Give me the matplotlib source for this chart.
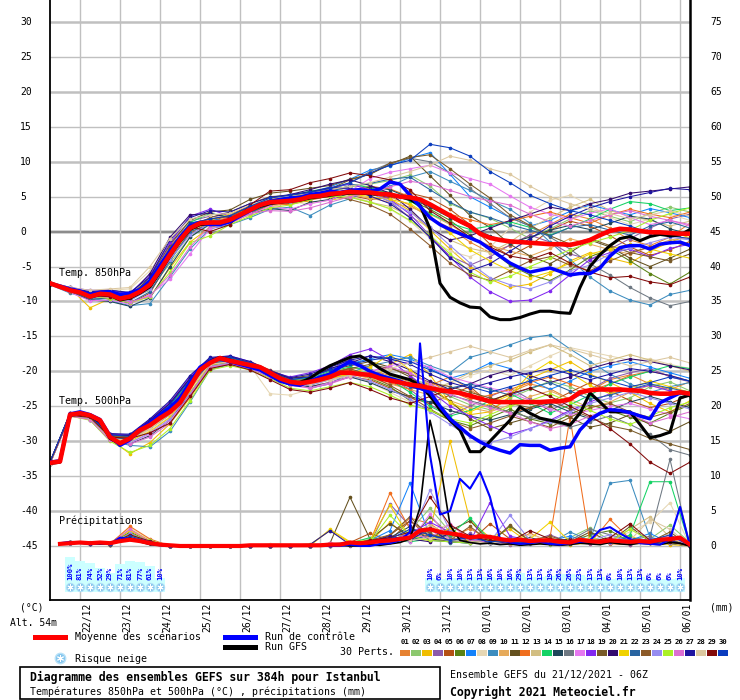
import matplotlib.pyplot as plt
import numpy as np
from matplotlib.lines import Line2D
from matplotlib.patches import Rectangle
from matplotlib.transforms import blended_transform_factory

plt.rcParams['font.family'] = 'DejaVu Sans Mono'

nan = np.nan

# forecast hours (run 21/12 06Z), 6-hourly for mean/control/GFS, 12-hourly for members
HOURS = np.arange(0, 385, 6)
PERT_HOURS = np.arange(0, 385, 12)
PRECIP_PERT_HOURS = np.arange(12, 385, 12)

DATE_LABELS = ['22/12', '23/12', '24/12', '25/12', '26/12', '27/12', '28/12', '29/12',
               '30/12', '31/12', '01/01', '02/01', '03/01', '04/01', '05/01', '06/01']
DATE_HOURS = [18, 42, 66, 90, 114, 138, 162, 186, 210, 234, 258, 282, 306, 330, 354, 378]

MEAN_850 = [-7.4, -7.9, -8.4, -8.7, -9.3, -8.9, -9.0, -9.6, -9.3, -8.6, -7.6, -5.5, -3.3, -1.2, 0.5, 1.2,
            1.3, 1.3, 1.7, 2.4, 3.1, 3.8, 4.2, 4.3, 4.4, 4.6, 5.0, 5.1, 5.4, 5.5, 5.7, 5.6, 5.6, 5.4,
            5.3, 5.0, 4.9, 4.6, 3.9, 3.1, 2.3, 1.5, 0.8, -0.3, -0.9, -1.2, -1.4, -1.5, -1.6, -1.7,
            -1.8, -1.8, -1.9, -1.6, -1.2, -0.5, 0.1, 0.4, 0.3, 0.1, -0.1, -0.1, -0.2, -0.3, -0.3]
CTRL_850 = [-7.4, -7.8, -8.2, -8.5, -9.0, -8.7, -8.6, -9.0, -8.8, -8.3, -7.0, -4.8, -2.8, -0.8, 0.8, 1.3,
            1.0, 1.0, 1.4, 2.2, 3.0, 3.8, 4.3, 4.6, 4.8, 4.9, 5.3, 5.5, 5.8, 5.6, 5.9, 6.0, 5.8, 6.1,
            7.1, 6.8, 5.2, 3.6, 2.0, 1.0, 0.3, -0.3, -0.9, -1.5, -2.5, -3.5, -4.5, -5.2, -5.8, -5.5,
            -5.2, -5.7, -6.2, -6.0, -6.0, -5.2, -3.5, -2.3, -2.0, -2.0, -2.5, -1.8, -1.6, -1.5, -2.0]
GFS_850 = [-7.4, -7.9, -8.3, -8.8, -9.4, -9.0, -9.1, -9.8, -9.5, -8.8, -7.9, -5.8, -3.5, -1.4, 0.3, 1.0,
           1.1, 1.2, 1.6, 2.3, 3.0, 3.6, 4.0, 4.2, 4.3, 4.5, 4.8, 5.0, 5.2, 5.4, 5.5, 5.5, 5.4, 5.3,
           5.2, 5.0, 4.6, 3.8, 0.4, -7.4, -9.4, -10.2, -10.8, -10.9, -12.2, -12.6, -12.6, -12.3,
           -11.8, -11.4, -11.4, -11.6, -11.7, -8.0, -5.0, -3.3, -2.0, -1.0, -0.7, -1.3, -0.7, -0.4,
           -0.6, -0.5, 0.3]

MEAN_500 = [-33.1, -32.9, -26.2, -26.0, -26.3, -27.0, -29.4, -30.3, -29.6, -28.4, -27.7, -26.7, -25.8,
            -24.5, -22.2, -19.8, -18.8, -18.1, -18.5, -18.8, -19.1, -19.4, -20.2, -21.0, -21.5, -21.7,
            -21.5, -21.2, -20.8, -20.2, -20.2, -20.4, -20.5, -21.0, -21.3, -21.6, -21.9, -22.1, -22.4,
            -22.7, -22.9, -23.1, -23.5, -23.9, -24.3, -24.4, -24.4, -24.4, -24.4, -24.4, -24.3, -24.3,
            -24.0, -23.0, -22.7, -22.6, -22.6, -22.6, -22.7, -22.8, -23.1, -23.2, -23.2, -23.0, -23.2]
CTRL_500 = [-33.0, -32.8, -26.1, -25.8, -26.2, -26.9, -29.2, -30.6, -29.8, -28.2, -27.4, -26.2, -25.2,
            -23.8, -21.6, -19.4, -18.6, -18.2, -18.6, -19.0, -19.4, -19.8, -20.6, -21.4, -21.8, -22.0,
            -21.4, -20.8, -20.4, -19.4, -18.6, -19.2, -20.0, -20.6, -21.0, -21.4, -22.0, -22.4, -23.0,
            -25.0, -26.8, -28.0, -29.2, -30.1, -30.8, -31.3, -31.7, -30.5, -30.6, -30.6, -31.3, -31.0,
            -30.8, -28.4, -26.9, -26.0, -25.5, -25.6, -25.9, -26.4, -26.8, -24.5, -23.8, -23.1, -23.2]
GFS_500 = [-33.2, -33.0, -26.3, -26.1, -26.4, -27.2, -29.6, -30.4, -29.5, -28.4, -27.6, -26.5, -25.5,
           -24.2, -21.9, -19.6, -18.6, -18.0, -18.4, -18.8, -19.2, -19.6, -20.4, -21.2, -21.6, -21.6,
           -21.0, -20.0, -19.2, -18.6, -18.0, -17.8, -18.6, -19.6, -20.4, -20.8, -21.2, -22.0, -23.5,
           -25.5, -27.0, -28.4, -31.5, -31.5, -30.0, -28.5, -27.0, -25.1, -26.0, -26.7, -27.0, -27.3,
           -27.7, -26.0, -23.1, -24.4, -25.8, -25.8, -25.8, -27.6, -29.5, -29.2, -28.7, -23.8, -23.4]

MEAN_PRECIP = [nan, 0.3, 0.4, 0.5, 0.4, 0.5, 0.4, 0.7, 0.9, 0.7, 0.4, 0.2, 0.1, 0, 0, 0, 0, 0, 0, 0,
               0.1, 0.1, 0.1, 0.1, 0.1, 0.1, 0.1, 0.1, 0.2, 0.2, 0.5, 0.4, 0.5, 0.7, 0.8, 1.0, 1.2, 2.2,
               2.4, 2.0, 1.8, 1.6, 1.2, 1.4, 1.3, 1.0, 0.8, 0.9, 0.7, 0.8, 0.8, 0.6, 0.5, 0.9, 0.7, 0.6,
               0.8, 0.7, 0.6, 0.7, 0.6, 0.9, 1.0, 1.2, 0.2]
CTRL_PRECIP = [nan, 0.4, 0.6, 0.5, 0.3, 0.4, 0.3, 1.2, 1.0, 0.8, 0.3, 0.1, 0, 0, 0, 0, 0, 0, 0, 0, 0,
               0.1, 0, 0, 0, 0, 0.1, 0, 0, 0, 0.2, 0, 0, 0.3, 0.4, 0.8, 2.0, 29.0, 13.0, 4.5, 5.0, 9.6,
               8.2, 10.6, 7.0, 1.0, 0.5, 0.3, 0.4, 0.6, 0.3, 0.2, 0.4, 0.6, 0.8, 2.3, 2.7, 1.8, 1.0, 0.4,
               0.3, 0.2, 1.0, 5.6, 0]
GFS_PRECIP = [nan, 0.3, 0.5, 0.4, 0.4, 0.3, 0.4, 0.9, 1.1, 0.6, 0.2, 0.1, 0, 0, 0, 0, 0, 0, 0, 0, 0,
              0, 0, 0, 0.1, 0, 0, 0, 0, 0.1, 0, 0, 0.2, 0.1, 0.3, 0.5, 1.0, 5.5, 18.0, 12.0, 3.0, 0.8,
              0.5, 0.3, 0.4, 0.2, 0.3, 0.1, 0.2, 0.3, 0.2, 0.1, 0.2, 0.4, 0.3, 0.2, 0.5, 0.3, 0.2, 0.4,
              0.3, 0.2, 0.5, 0.4, 0]

PERT_COLORS = ['#e68232', '#8cc86e', '#f0be00', '#8c5aaa', '#b45014', '#5a8214', '#1482fa', '#e6d7b4',
               '#3c8cbe', '#e6aa5a', '#64501e', '#f06e1e', '#d2be82', '#14d264', '#1e465a', '#6e7882',
               '#e678f0', '#8228f0', '#785a28', '#320a6e', '#f0d200', '#2864a0', '#8c5a28', '#968cf0',
               '#aaf028', '#dc6ed2', '#1e14a0', '#dcc8a0', '#820a0a', '#0a3cbe']

PERTS_850 = [
    [-7.3, -8.3, -9.1, -9.2, -9.8, -8.0, -3.6, 0.2, 1.5, 2.0, 3.4, 4.8, 4.6, 5.2, 4.8, 5.5, 6.2, 5.0, 3.8, 2.0, 0.5, -1.5, -3.0, -2.0, -0.5, 1.0, 2.5, 1.8, 0.5, -1.2, -2.0, -0.8, 1.2],
    [-7.4, -8.6, -9.5, -9.0, -9.6, -8.4, -4.5, -0.8, 1.0, 1.5, 2.8, 4.0, 4.3, 4.9, 5.6, 6.4, 6.8, 7.3, 8.1, 6.5, 4.0, 2.8, 1.9, 0.5, -1.0, 0.4, 1.8, 3.0, 2.2, 1.4, 2.6, 3.5, 2.8],
    [-7.2, -8.1, -10.9, -9.6, -10.0, -9.4, -5.2, -1.5, 0.6, 1.3, 2.5, 3.9, 4.8, 4.2, 4.5, 5.0, 5.4, 4.7, 3.0, 0.2, -2.5, -5.0, -6.8, -8.0, -7.5, -6.0, -4.2, -3.0, -3.8, -4.5, -2.8, -1.5, -0.5],
    [-7.5, -8.0, -8.6, -8.3, -9.0, -6.8, -2.0, 1.5, 2.2, 1.9, 3.5, 4.5, 5.0, 5.4, 5.9, 6.3, 5.5, 4.3, 2.0, -0.8, -3.5, -4.8, -3.6, -1.9, -0.5, -1.5, -3.2, -4.0, -2.5, -1.0, 0.5, 1.8, 2.5],
    [-7.4, -8.5, -9.8, -9.4, -10.3, -8.8, -4.0, -0.2, 1.4, 2.4, 3.7, 4.6, 5.2, 5.5, 6.0, 5.2, 4.6, 4.9, 5.5, 4.8, 3.2, 1.0, -1.8, -3.5, -2.0, 0.2, 1.5, 0.8, -0.6, -2.2, -3.4, -2.6, -1.4],
    [-7.3, -8.2, -9.0, -9.1, -9.5, -7.5, -3.0, 0.9, 1.1, 1.6, 2.9, 4.1, 4.0, 4.6, 5.3, 5.8, 6.0, 5.6, 4.5, 3.2, 1.6, -0.5, -2.6, -4.8, -6.2, -7.0, -5.5, -3.6, -2.5, -4.2, -6.0, -7.5, -5.8],
    [-7.4, -8.4, -9.3, -8.7, -9.1, -7.0, -2.6, 1.2, 1.8, 1.5, 3.0, 4.3, 4.7, 5.6, 6.4, 7.5, 8.8, 9.4, 10.5, 11.3, 8.2, 5.0, 3.5, 2.0, 0.8, 1.6, 2.9, 3.8, 3.1, 2.4, 3.3, 2.7, 2.0],
    [-7.2, -8.0, -8.5, -8.4, -8.2, -5.6, -1.5, 1.5, 2.5, 2.3, 2.2, 3.5, 4.2, 4.0, 4.6, 5.1, 4.3, 3.2, 1.5, -1.0, -2.8, -3.6, -2.2, 0.5, 2.8, 4.5, 5.2, 3.8, 2.0, 1.0, 1.8, 2.5, 1.6],
    [-7.6, -8.8, -9.6, -9.9, -10.6, -10.3, -6.5, -2.5, 0.4, 1.0, 2.0, 3.2, 3.5, 2.3, 3.8, 4.7, 5.8, 6.5, 7.8, 8.6, 7.2, 5.9, 4.5, 3.2, 1.2, -1.5, -4.0, -6.5, -8.5, -9.8, -10.5, -9.0, -8.4],
    [-7.4, -8.3, -9.0, -9.3, -9.4, -7.8, -3.2, 0.3, 1.2, 2.0, 3.3, 4.4, 4.9, 5.2, 5.0, 5.3, 4.8, 4.2, 3.5, 2.5, 1.0, -0.8, -2.0, -2.8, -3.5, -2.4, -1.0, -1.8, -2.6, -3.2, -2.2, -1.2, -0.8],
    [-7.5, -8.5, -9.2, -9.0, -9.3, -6.5, -1.8, 1.6, 2.8, 3.1, 4.6, 5.5, 5.8, 6.2, 6.6, 7.5, 8.2, 9.6, 10.8, 8.0, 5.2, 2.3, 0.6, -1.8, -3.5, -4.6, -3.0, -1.2, -2.2, -3.8, -5.0, -3.8, -2.5],
    [-7.3, -8.4, -9.3, -9.0, -9.2, -7.4, -3.0, 0.6, 1.3, 1.2, 2.5, 3.8, 3.9, 4.5, 5.1, 5.9, 6.5, 6.1, 5.0, 3.6, 2.5, 1.7, 1.0, 1.5, 2.2, 2.8, 2.0, 1.2, 2.4, 3.2, 2.5, 2.0, 2.8],
    [-7.4, -8.4, -9.4, -9.2, -9.6, -7.9, -3.8, 0.0, 1.0, 1.4, 2.8, 4.0, 4.6, 5.0, 5.5, 5.0, 4.2, 3.6, 2.2, 0.5, -1.2, -2.4, -3.0, -1.5, 0.5, 2.0, 3.5, 4.6, 3.0, 2.2, 1.6, 0.8, 1.5],
    [-7.3, -8.2, -9.0, -9.0, -9.4, -7.2, -2.8, 1.3, 2.6, 2.1, 3.6, 4.9, 5.1, 5.8, 6.2, 6.8, 6.3, 5.4, 4.4, 2.6, 1.2, 0.3, 0.8, 1.4, 0.6, -0.5, 0.6, 1.8, 3.2, 4.3, 4.0, 3.0, 3.4],
    [-7.5, -8.6, -9.8, -10.0, -10.7, -9.5, -5.0, -0.8, 1.1, 1.8, 2.6, 3.3, 3.0, 4.2, 4.6, 5.5, 6.4, 6.0, 4.8, 3.5, 2.0, 0.6, -0.6, -1.6, -0.8, 0.2, 0.9, 0.3, 1.2, 2.2, 1.8, 0.4, -0.4],
    [-7.4, -8.4, -9.3, -9.2, -9.5, -7.6, -3.4, 0.4, 1.4, 1.8, 3.1, 4.3, 4.7, 5.4, 6.0, 7.0, 8.6, 9.8, 10.5, 10.0, 8.4, 6.2, 4.0, 2.0, 0.8, -0.8, -2.5, -4.6, -6.2, -8.0, -9.5, -10.6, -10.0],
    [-7.4, -8.7, -9.9, -9.8, -10.4, -9.0, -6.8, -3.2, 0.4, 1.2, 2.5, 3.6, 3.2, 4.0, 4.5, 5.8, 7.6, 8.5, 9.0, 9.5, 8.4, 7.6, 6.8, 5.1, 3.5, 2.5, 1.8, 2.6, 3.3, 2.0, 1.0, 1.6, 0.8],
    [-7.3, -8.0, -8.4, -8.4, -8.8, -6.2, -1.6, 2.2, 3.2, 2.2, 3.6, 4.6, 4.8, 5.5, 6.3, 6.8, 6.0, 4.6, 2.5, -0.6, -3.6, -6.5, -8.6, -10.0, -9.8, -8.5, -6.2, -4.0, -3.0, -2.5, -3.6, -2.4, -1.8],
    [-7.4, -8.3, -8.8, -9.0, -9.6, -7.3, -2.4, 0.6, 2.0, 2.8, 4.0, 5.0, 5.2, 5.6, 6.1, 7.4, 8.2, 9.8, 10.6, 11.0, 9.0, 6.8, 4.8, 2.4, 0.9, -0.6, -1.8, -1.0, -2.0, -3.0, -3.6, -4.2, -3.2],
    [-7.3, -8.1, -8.7, -8.6, -9.0, -6.0, -0.8, 2.4, 2.6, 2.0, 3.2, 4.5, 5.3, 6.0, 6.8, 7.4, 6.6, 5.5, 3.2, 0.5, -1.2, -0.6, 0.5, 1.6, 2.5, 3.5, 3.0, 4.0, 4.6, 5.5, 5.8, 6.1, 6.4],
    [-7.4, -8.2, -9.2, -9.4, -9.8, -8.0, -3.6, 0.1, 1.6, 2.5, 3.2, 4.1, 4.5, 4.8, 5.1, 5.4, 5.0, 4.6, 4.0, 2.2, -0.2, -2.6, -4.2, -5.6, -6.6, -5.8, -4.5, -3.2, -2.5, -1.8, -2.5, -3.2, -3.8],
    [-7.4, -8.4, -9.5, -9.6, -10.2, -8.6, -4.2, 0.0, 1.0, 1.5, 2.7, 3.9, 4.4, 5.0, 5.7, 6.6, 6.9, 7.5, 7.8, 6.0, 4.2, 2.8, 2.0, 1.0, 0.2, -0.6, 0.6, 1.0, 0.2, -0.5, 0.8, 1.4, 0.5],
    [-7.5, -8.6, -9.4, -9.2, -9.4, -7.2, -2.2, 1.0, 1.8, 2.2, 3.5, 4.6, 5.0, 5.3, 5.2, 4.6, 3.8, 2.5, 0.4, -2.0, -4.5, -6.2, -7.0, -5.6, -4.2, -3.6, -4.8, -5.6, -4.2, -3.0, -2.2, -1.5, -2.0],
    [-7.4, -8.5, -9.4, -9.3, -9.9, -8.2, -4.0, -0.5, 1.2, 1.7, 2.9, 4.0, 4.3, 4.9, 5.5, 6.0, 5.6, 4.3, 2.8, 0.6, -2.0, -4.5, -6.6, -7.6, -8.2, -7.2, -5.6, -4.8, -3.2, -2.4, -1.6, -0.8, -1.2],
    [-7.4, -8.3, -9.2, -9.6, -10.2, -9.3, -5.8, -1.6, -0.6, 1.0, 2.2, 3.4, 3.8, 4.6, 5.1, 4.9, 4.2, 3.3, 1.6, -0.5, -3.2, -5.8, -7.2, -6.4, -5.0, -3.8, -2.6, -1.6, -0.8, 0.2, 1.6, 2.6, 3.4],
    [-7.4, -8.3, -9.2, -9.4, -10.1, -9.2, -6.2, -2.2, 0.8, 1.8, 2.6, 3.0, 2.9, 3.4, 4.2, 5.0, 5.6, 6.4, 7.2, 6.8, 5.9, 5.0, 4.4, 3.8, 2.5, 1.4, 0.8, 1.6, 2.4, 3.0, 2.2, 1.6, 1.0],
    [-7.3, -8.0, -8.6, -8.4, -8.7, -6.5, -1.2, 2.0, 3.0, 2.8, 4.0, 4.9, 5.3, 5.7, 6.3, 6.2, 5.1, 4.0, 2.0, -0.8, -3.8, -5.6, -4.6, -2.8, -1.0, 0.8, 2.2, 3.4, 4.3, 5.0, 5.6, 6.2, 6.0],
    [-7.2, -8.0, -8.4, -8.2, -8.0, -5.0, -1.0, 1.8, 2.4, 2.6, 3.8, 4.7, 5.1, 5.5, 6.0, 6.5, 7.0, 7.8, 8.6, 9.5, 10.8, 10.2, 9.0, 8.2, 6.5, 5.0, 4.0, 3.2, 2.6, 1.8, 2.4, 3.0, 2.2],
    [-7.4, -8.3, -9.2, -9.3, -9.5, -7.3, -2.8, 0.7, 0.0, 1.0, 3.8, 5.8, 6.0, 7.0, 7.6, 8.4, 8.0, 7.4, 6.0, 3.0, 1.2, -0.8, -2.2, -3.5, -4.0, -3.0, -4.5, -5.8, -6.6, -6.4, -7.2, -7.6, -6.5],
    [-7.4, -8.4, -9.2, -9.1, -9.3, -7.0, -2.5, 1.2, 1.8, 2.3, 3.6, 4.8, 5.2, 5.6, 6.2, 7.0, 8.4, 9.5, 10.2, 12.5, 12.0, 10.8, 8.6, 7.0, 5.2, 4.0, 3.0, 2.4, 1.6, 0.8, -0.2, -0.6, -1.0],
]

PERTS_500 = [
    [-33.0, -26.1, -26.8, -29.8, -29.4, -27.2, -25.2, -21.6, -18.5, -18.2, -19.0, -20.4, -21.6, -21.2, -20.3, -19.5, -19.8, -20.6, -21.5, -22.0, -20.8, -22.6, -24.5, -23.0, -21.8, -22.5, -24.0, -22.8, -21.2, -20.5, -21.8, -22.6, -21.5],
    [-33.2, -26.3, -26.5, -29.6, -29.8, -28.0, -26.0, -22.5, -19.0, -18.3, -19.2, -20.0, -21.3, -21.8, -21.2, -20.2, -20.0, -20.8, -21.2, -21.8, -23.6, -24.8, -25.5, -23.8, -22.6, -21.4, -22.2, -23.6, -24.5, -23.8, -22.2, -21.5, -22.8],
    [-33.1, -26.4, -26.9, -29.7, -31.8, -30.2, -27.5, -23.8, -19.6, -18.9, -19.4, -20.6, -21.4, -21.9, -21.0, -20.5, -21.5, -19.0, -17.6, -20.5, -24.5, -26.2, -25.8, -23.6, -21.0, -19.8, -18.6, -20.4, -21.6, -23.0, -24.6, -25.8, -24.2],
    [-33.0, -26.0, -26.4, -29.0, -29.2, -27.0, -24.6, -21.2, -18.2, -18.0, -18.9, -20.2, -21.8, -20.8, -19.8, -18.2, -19.6, -21.0, -22.6, -24.8, -26.2, -25.0, -23.6, -22.4, -24.0, -25.6, -24.2, -22.6, -21.0, -20.2, -19.6, -20.8, -21.5],
    [-33.2, -26.2, -26.7, -29.5, -29.6, -27.8, -25.9, -22.4, -18.9, -18.4, -18.6, -19.8, -21.0, -22.2, -21.6, -20.8, -21.2, -22.4, -23.8, -24.6, -23.4, -22.2, -24.6, -26.0, -25.2, -24.4, -23.0, -21.6, -22.8, -24.2, -25.2, -24.6, -23.4],
    [-33.1, -26.2, -26.6, -29.4, -29.8, -28.2, -26.2, -22.0, -18.8, -18.6, -19.4, -20.8, -22.0, -21.4, -20.6, -20.0, -21.0, -22.2, -24.2, -25.6, -27.0, -27.8, -26.6, -25.4, -26.8, -27.5, -26.2, -24.8, -25.6, -26.6, -27.4, -26.0, -24.8],
    [-33.0, -26.1, -26.4, -29.2, -29.0, -27.2, -24.8, -21.0, -18.4, -18.1, -18.8, -20.0, -21.2, -20.9, -19.6, -18.9, -18.2, -17.6, -18.2, -19.6, -21.0, -20.2, -18.8, -19.6, -21.2, -22.6, -21.4, -20.0, -19.2, -18.6, -19.4, -20.2, -21.0],
    [-33.2, -26.3, -26.8, -29.7, -30.0, -28.4, -26.5, -23.0, -19.2, -18.7, -19.2, -23.2, -23.4, -22.6, -21.4, -20.6, -21.6, -23.0, -24.4, -23.0, -21.8, -20.6, -19.8, -20.6, -19.2, -17.8, -16.6, -17.2, -17.8, -18.4, -18.2, -19.0, -19.6],
    [-33.1, -26.2, -26.9, -29.9, -30.6, -30.8, -28.6, -24.4, -19.8, -19.0, -19.6, -20.7, -21.6, -22.4, -21.8, -20.2, -19.2, -18.6, -18.0, -19.2, -20.2, -18.0, -17.2, -16.2, -15.2, -14.8, -16.8, -18.6, -20.4, -21.8, -23.0, -22.2, -21.6],
    [-33.1, -26.2, -26.6, -29.3, -29.5, -27.6, -25.6, -22.2, -18.7, -18.4, -19.1, -20.3, -21.4, -21.6, -20.9, -20.4, -21.0, -21.8, -22.6, -23.4, -24.2, -25.2, -25.8, -24.8, -23.6, -22.8, -24.0, -25.2, -24.4, -23.0, -22.0, -22.8, -23.6],
    [-33.0, -26.0, -26.4, -29.0, -29.2, -27.0, -24.5, -21.0, -18.2, -17.9, -18.8, -20.1, -21.0, -20.6, -19.8, -19.2, -18.6, -19.4, -20.8, -22.6, -24.2, -26.8, -28.2, -27.4, -26.6, -25.0, -26.6, -28.0, -27.4, -26.2, -27.6, -28.6, -27.2],
    [-33.2, -26.3, -26.7, -29.6, -29.9, -28.0, -26.0, -22.4, -18.9, -18.6, -19.3, -20.2, -21.6, -21.4, -20.4, -19.8, -20.4, -21.6, -22.6, -21.6, -22.8, -24.0, -23.4, -22.6, -21.6, -20.8, -21.8, -22.8, -21.8, -20.6, -20.0, -20.6, -21.4],
    [-33.1, -26.2, -26.8, -29.6, -29.8, -28.2, -26.2, -22.6, -19.0, -18.8, -19.4, -20.6, -21.8, -22.0, -21.2, -20.4, -20.8, -21.4, -22.2, -22.8, -21.6, -20.2, -19.2, -18.4, -17.2, -16.2, -17.6, -19.2, -18.4, -17.6, -18.4, -19.2, -20.0],
    [-33.0, -26.1, -26.5, -29.2, -29.4, -27.4, -25.0, -21.4, -18.4, -18.0, -18.9, -20.1, -21.2, -21.0, -20.0, -19.4, -19.8, -21.2, -23.0, -25.0, -26.4, -25.6, -24.2, -23.2, -24.6, -26.0, -24.8, -23.4, -21.8, -20.8, -20.0, -19.2, -19.6],
    [-33.2, -26.3, -26.9, -29.8, -30.4, -29.2, -27.0, -23.2, -19.2, -18.8, -19.6, -20.8, -22.0, -22.2, -21.6, -20.8, -21.6, -22.8, -23.6, -24.4, -25.6, -26.4, -27.0, -26.2, -25.4, -24.6, -25.8, -26.8, -25.6, -24.4, -23.6, -24.4, -25.2],
    [-33.1, -26.2, -26.7, -29.5, -29.7, -27.8, -25.8, -22.1, -18.8, -18.5, -19.2, -20.3, -21.5, -21.4, -20.6, -20.0, -20.5, -21.2, -22.0, -22.6, -23.4, -24.2, -25.0, -25.8, -26.6, -27.2, -28.0, -27.2, -26.4, -27.6, -29.0, -31.2, -32.0],
    [-33.2, -26.4, -26.9, -29.9, -30.2, -29.0, -27.0, -23.6, -19.4, -18.9, -19.6, -20.6, -21.8, -22.4, -21.6, -20.8, -20.0, -19.2, -18.6, -19.4, -20.8, -21.6, -22.4, -23.0, -24.2, -25.4, -26.2, -25.6, -25.0, -24.6, -25.4, -26.2, -26.8],
    [-33.0, -26.1, -26.4, -29.0, -29.1, -26.9, -24.4, -20.8, -18.1, -17.8, -18.6, -20.0, -20.8, -20.2, -19.2, -17.6, -16.8, -18.4, -20.6, -22.8, -25.0, -26.4, -27.8, -29.0, -28.2, -27.0, -25.6, -24.4, -23.2, -22.6, -22.0, -22.8, -23.4],
    [-33.1, -26.2, -26.6, -29.3, -29.5, -27.6, -25.4, -21.8, -18.6, -18.3, -19.0, -20.2, -21.3, -21.2, -20.4, -19.6, -19.0, -19.6, -20.4, -21.6, -22.2, -23.0, -23.8, -24.6, -25.2, -24.2, -25.4, -26.6, -27.8, -28.4, -29.6, -30.4, -31.2],
    [-33.0, -26.1, -26.3, -29.1, -29.2, -27.0, -24.6, -21.0, -18.2, -17.9, -18.8, -20.0, -21.0, -20.8, -19.6, -18.8, -17.8, -18.6, -19.8, -21.4, -22.6, -21.8, -20.6, -19.8, -20.6, -21.6, -20.8, -19.6, -18.8, -18.2, -18.6, -19.2, -19.8],
    [-33.1, -26.3, -26.8, -29.7, -30.0, -28.6, -26.6, -23.0, -19.2, -18.8, -19.4, -20.6, -21.8, -21.8, -21.0, -20.4, -19.4, -17.6, -19.8, -22.0, -24.4, -25.8, -24.6, -23.4, -20.4, -18.6, -20.2, -22.0, -23.2, -22.4, -21.4, -22.2, -23.0],
    [-33.2, -26.3, -26.6, -29.5, -29.7, -27.8, -25.7, -22.0, -18.8, -18.5, -19.2, -20.2, -21.4, -21.6, -20.8, -20.2, -20.6, -21.4, -22.2, -23.0, -22.4, -21.8, -22.6, -23.4, -22.4, -21.6, -22.8, -24.0, -23.4, -22.6, -21.8, -22.4, -23.0],
    [-33.1, -26.2, -26.5, -29.2, -29.4, -27.4, -25.2, -21.6, -18.6, -18.2, -19.0, -20.4, -21.6, -21.2, -20.2, -19.6, -20.6, -22.0, -23.6, -25.4, -27.0, -28.2, -27.4, -26.4, -27.2, -28.0, -26.6, -25.2, -24.6, -25.8, -26.6, -25.8, -24.6],
    [-33.2, -26.3, -26.8, -29.8, -30.2, -28.8, -26.8, -23.2, -19.3, -18.8, -19.5, -20.7, -21.8, -22.0, -21.2, -20.6, -21.4, -22.6, -24.0, -25.8, -27.6, -29.4, -30.2, -29.4, -28.2, -27.2, -25.8, -24.6, -23.8, -23.0, -23.8, -24.6, -25.4],
    [-33.1, -26.4, -27.0, -30.0, -31.6, -30.6, -28.2, -24.2, -19.8, -19.2, -19.8, -21.0, -22.4, -22.8, -22.2, -21.6, -22.2, -23.4, -24.8, -25.6, -26.8, -27.4, -26.2, -25.0, -24.2, -23.2, -24.4, -25.6, -26.8, -27.6, -26.4, -25.2, -24.4],
    [-33.2, -26.4, -26.9, -29.9, -30.4, -29.4, -27.4, -23.4, -19.4, -18.9, -19.6, -20.8, -22.0, -22.4, -21.8, -20.8, -20.0, -19.4, -20.2, -21.8, -23.2, -24.4, -25.2, -26.0, -27.2, -28.2, -27.6, -26.4, -25.4, -26.2, -27.4, -26.6, -25.8],
    [-33.0, -26.0, -26.3, -28.9, -29.0, -26.8, -24.2, -20.6, -18.0, -17.8, -18.6, -19.9, -20.9, -20.4, -19.4, -18.4, -17.8, -18.2, -19.0, -20.4, -21.6, -22.4, -21.6, -20.8, -20.2, -19.6, -20.4, -21.2, -20.4, -19.6, -20.0, -20.6, -21.4],
    [-33.2, -26.2, -26.7, -29.6, -29.9, -28.2, -26.0, -22.4, -19.0, -18.6, -19.2, -20.4, -21.4, -21.8, -21.2, -20.6, -20.2, -19.6, -18.8, -18.0, -17.2, -16.4, -17.2, -18.0, -17.0, -16.2, -16.8, -17.6, -18.4, -19.2, -18.6, -18.0, -18.8],
    [-33.1, -26.3, -26.6, -29.4, -29.6, -28.8, -27.4, -23.6, -19.6, -19.0, -19.8, -21.2, -22.6, -23.0, -22.4, -21.6, -22.6, -23.8, -24.6, -23.6, -22.6, -23.4, -24.2, -23.2, -22.4, -23.6, -25.0, -26.4, -28.2, -30.4, -33.0, -34.6, -33.0],
    [-33.0, -26.1, -26.4, -29.1, -29.3, -27.2, -24.8, -21.2, -18.3, -18.0, -18.8, -20.1, -21.2, -20.8, -19.8, -19.0, -18.4, -18.0, -18.6, -19.8, -21.0, -22.2, -23.0, -22.2, -21.4, -20.6, -19.8, -20.6, -21.4, -22.2, -21.6, -20.8, -21.4],
]

PERTS_PRECIP = [
    [0.5, 0.4, 0.3, 1.2, 0.6, 0, 0, 0, 0, 0, 0.2, 0, 0, 0.4, 0.3, 0.8, 1.5, 4.0, 3.2, 1.2, 2.5, 0.8, 0.5, 1.8, 0.6, 0.4, 1.0, 0.3, 0.2, 0.8, 1.5, 0],
    [0.6, 0.3, 0.4, 1.8, 0.4, 0, 0, 0, 0, 0, 0, 0.1, 0.3, 0, 0.2, 1.0, 0.6, 2.2, 5.4, 2.0, 0.8, 1.4, 0.3, 0.6, 0.2, 1.2, 2.6, 0.8, 0.4, 1.0, 3.0, 0.5],
    [0.4, 0.5, 0.2, 2.4, 0.8, 0, 0, 0, 0, 0, 0, 0, 0.2, 2.2, 0.5, 0.6, 3.4, 1.0, 2.0, 15.0, 3.6, 1.2, 2.4, 0.4, 0.8, 0.2, 0.4, 0.6, 1.4, 0.5, 0.2, 0],
    [0.5, 0.4, 0.3, 1.0, 0.5, 0, 0, 0, 0, 0, 0, 0, 0, 0.2, 0, 0.4, 6.0, 2.8, 1.0, 0.6, 1.8, 0.4, 0.2, 0.6, 1.6, 0.5, 0.3, 0.8, 0.2, 1.2, 0.6, 0],
    [0.6, 0.5, 0.4, 1.4, 0.6, 0, 0, 0, 0, 0, 0, 0, 0.1, 0.3, 0.5, 1.8, 0.8, 3.6, 1.2, 2.4, 0.6, 3.2, 1.0, 0.4, 0.3, 0.8, 0.4, 0.6, 1.0, 0.4, 0.8, 0],
    [0.5, 0.3, 0.3, 2.0, 0.7, 0, 0, 0, 0, 0, 0, 0, 0, 0, 0.2, 0.5, 1.2, 0.8, 4.2, 1.6, 0.8, 0.5, 2.8, 0.8, 0.4, 0.6, 1.6, 2.2, 0.6, 0.5, 1.0, 0],
    [0.4, 0.4, 0.2, 1.6, 0.5, 0, 0, 0, 0, 0, 0, 0, 0, 0.3, 0.3, 0.8, 2.2, 9.0, 1.4, 0.6, 1.0, 0.4, 0.6, 0.3, 0.8, 1.4, 0.6, 0.4, 0.8, 1.8, 0.4, 0],
    [0.5, 0.6, 0.4, 2.6, 0.9, 0, 0, 0, 0, 0, 0.3, 0.2, 0, 0, 0.4, 1.2, 0.6, 0.8, 2.4, 3.0, 1.2, 0.6, 0.4, 1.6, 0.8, 0.3, 0.6, 1.0, 2.0, 3.4, 6.2, 0],
    [0.6, 0.5, 0.3, 1.2, 0.6, 0, 0, 0, 0, 0, 0, 0, 0, 0.2, 0.2, 0.6, 1.0, 0.8, 1.6, 0.5, 0.6, 0.4, 1.2, 0.8, 0.4, 2.0, 0.8, 9.0, 9.4, 1.2, 0.8, 0],
    [0.5, 0.4, 0.4, 1.6, 0.6, 0, 0, 0, 0, 0, 0, 0, 0, 0, 0.3, 0.4, 0.6, 2.0, 1.0, 1.8, 0.6, 0.8, 0.3, 0.5, 1.2, 0.4, 0.8, 0.5, 0.6, 0.8, 0.4, 0],
    [0.4, 0.3, 0.2, 1.0, 0.4, 0, 0, 0, 0, 0, 0, 0, 0, 0.4, 7.0, 1.0, 3.2, 1.4, 0.8, 2.2, 3.6, 0.6, 0.4, 0.8, 0.4, 0.6, 2.0, 0.6, 2.8, 0.6, 0.4, 0],
    [0.5, 0.5, 0.3, 2.8, 1.0, 0, 0, 0, 0, 0, 0, 0, 0, 0.2, 0.3, 0.6, 7.6, 2.4, 1.2, 0.8, 1.4, 0.6, 0.8, 0.4, 1.2, 18.4, 0.4, 3.8, 1.0, 0.6, 0.8, 0],
    [0.6, 0.4, 0.4, 1.2, 0.5, 0, 0, 0, 0, 0, 0, 0, 0, 0.3, 0.2, 0.4, 0.8, 1.6, 3.0, 0.8, 0.4, 1.2, 0.6, 0.3, 0.6, 0.5, 1.0, 0.8, 2.4, 4.2, 1.2, 0],
    [0.5, 0.4, 0.3, 1.8, 0.6, 0, 0, 0, 0, 0, 0, 0, 0, 0, 0.4, 1.2, 0.8, 0.6, 1.0, 1.6, 4.0, 0.8, 0.4, 0.6, 0.5, 0.8, 0.6, 0.4, 1.6, 9.2, 9.2, 0],
    [0.4, 0.5, 0.3, 1.4, 0.5, 0, 0, 0, 0, 0, 0, 0, 0, 0.2, 0.2, 0.5, 1.2, 2.8, 0.8, 0.6, 0.4, 0.8, 0.6, 1.2, 0.5, 0.3, 0.6, 0.4, 0.8, 0.6, 0.4, 0],
    [0.5, 0.4, 0.4, 1.6, 0.6, 0, 0, 0, 0, 0, 0, 0, 0, 0.3, 0.5, 0.4, 0.6, 1.0, 2.2, 1.2, 0.6, 0.4, 0.8, 0.6, 1.0, 0.8, 2.4, 1.6, 0.8, 1.4, 12.4, 0],
    [0.6, 0.4, 0.3, 1.2, 0.8, 0, 0, 0, 0, 0, 0, 0, 0.2, 0.4, 0.2, 0.8, 1.4, 0.6, 4.6, 0.8, 1.2, 0.6, 0.4, 0.5, 0.8, 0.6, 0.4, 1.2, 0.6, 0.4, 0.6, 0],
    [0.5, 0.3, 0.3, 1.4, 0.6, 0, 0, 0, 0, 0, 0, 0, 0, 0, 0.3, 0.6, 0.8, 1.8, 3.4, 2.0, 0.6, 6.2, 1.4, 0.8, 0.6, 0.5, 0.8, 0.4, 0.6, 1.0, 0.5, 0],
    [0.4, 0.4, 0.2, 1.8, 0.5, 0, 0, 0, 0, 0, 0, 0, 0, 0.3, 0.2, 0.4, 1.6, 4.2, 1.2, 0.6, 0.8, 0.4, 3.0, 0.6, 0.4, 0.8, 0.6, 0.5, 0.8, 0.6, 2.0, 0],
    [0.5, 0.5, 0.3, 1.2, 0.6, 0, 0, 0, 0, 0, 0, 0, 0, 0.2, 0.2, 0.5, 0.8, 1.0, 0.6, 1.8, 0.8, 0.4, 0.6, 0.8, 0.5, 1.0, 0.4, 0.6, 0.5, 0.4, 0.6, 0],
    [0.6, 0.4, 0.4, 2.2, 0.7, 0, 0, 0, 0, 0, 0, 0, 0, 2.4, 0.6, 0.8, 5.8, 1.2, 0.8, 2.6, 0.6, 0.8, 0.4, 1.0, 3.4, 0.6, 0.8, 0.4, 0.6, 0.8, 0.4, 0],
    [0.5, 0.4, 0.3, 1.6, 0.6, 0, 0, 0, 0, 0, 0, 0, 0, 0.3, 0.4, 0.6, 1.0, 0.8, 1.6, 0.6, 0.4, 1.2, 0.8, 0.5, 0.6, 0.4, 0.6, 0.8, 1.2, 0.6, 0.8, 0],
    [0.4, 0.5, 0.3, 1.4, 0.5, 0, 0, 0, 0, 0, 0, 0, 0, 0.2, 0.3, 0.8, 1.6, 3.6, 1.8, 0.8, 2.8, 0.6, 0.4, 0.8, 1.4, 0.6, 0.5, 0.8, 0.4, 0.6, 0.8, 0],
    [0.5, 0.4, 0.3, 1.8, 0.6, 0, 0, 0, 0, 0, 0, 0, 0, 0.3, 0.2, 0.4, 0.6, 1.2, 8.0, 2.2, 0.8, 0.6, 4.4, 0.8, 0.5, 0.6, 0.8, 1.6, 0.6, 0.8, 0.5, 0],
    [0.6, 0.5, 0.4, 1.6, 0.8, 0, 0, 0, 0, 0, 0, 0, 0, 0.2, 0.4, 0.6, 4.4, 1.4, 0.8, 0.6, 0.4, 1.0, 0.6, 0.8, 0.5, 0.4, 1.2, 0.6, 2.4, 0.8, 0.6, 0],
    [0.5, 0.4, 0.3, 2.4, 0.6, 0, 0, 0, 0, 0, 0, 0, 0, 0.4, 0.3, 0.5, 0.8, 1.6, 1.2, 3.2, 0.8, 0.6, 0.4, 1.0, 0.6, 0.8, 0.5, 0.4, 0.8, 0.6, 1.4, 0],
    [0.4, 0.3, 0.3, 1.2, 0.5, 0, 0, 0, 0, 0, 0, 0, 0.2, 2.2, 0.2, 0.6, 1.4, 0.8, 2.6, 0.6, 1.6, 0.4, 0.6, 0.5, 0.8, 0.4, 0.6, 0.8, 0.5, 0.6, 0.8, 0],
    [0.5, 0.4, 0.4, 1.4, 0.6, 0, 0, 0, 0, 0, 0, 0, 0, 0.3, 0.2, 0.4, 0.6, 0.8, 1.2, 0.8, 0.6, 0.4, 0.8, 0.6, 0.4, 0.8, 1.0, 0.6, 0.8, 3.8, 2.4, 0],
    [0.6, 0.5, 0.3, 1.6, 0.7, 0, 0, 0, 0, 0, 0, 0, 0, 0.2, 0.3, 0.8, 1.2, 2.0, 7.0, 3.0, 1.4, 0.8, 0.6, 2.2, 1.0, 0.8, 0.6, 1.2, 3.2, 0.8, 0.6, 0],
    [0.5, 0.4, 0.3, 1.4, 0.6, 0, 0, 0, 0, 0, 0, 0, 0, 0.2, 0.3, 0.6, 1.0, 2.4, 1.6, 0.8, 1.2, 0.6, 0.8, 0.5, 0.6, 0.4, 0.8, 0.6, 0.5, 0.8, 1.6, 0],
]

SNOW_HOURS = [12, 18, 24, 30, 36, 42, 48, 54, 60, 66,
              228, 234, 240, 246, 252, 258, 264, 270, 276, 282, 288, 294, 300,
              306, 312, 318, 324, 330, 336, 342, 348, 354, 360, 366, 372, 378]
SNOW_PCT = [100, 81, 74, 52, 29, 71, 81, 77, 61, 10,
            10, 6, 10, 10, 13, 13, 16, 10, 16, 29, 13, 13, 19,
            26, 26, 23, 13, 13, 6, 10, 13, 13, 6, 6, 6, 10]

PRECIP_BASE = -45  # the mm scale starts at the -45 degC line

W, H = 740, 700


def fpos(x, y):
    """pixel position -> figure fraction"""
    return x / W, 1 - y / H


fig = plt.figure(figsize=(W / 100, H / 100), dpi=100)
ax = fig.add_axes([50 / W, 1 - 600 / H, 640 / W, 600 / H])
ax.set_xlim(0, 384)
ax.set_ylim(-52.73, 33.15)
ax.set_xticks([])
ax.set_yticks([])
ax.spines['top'].set_visible(False)
ax.spines['left'].set_linewidth(1.3)
ax.spines['bottom'].set_linewidth(1.3)
ax.spines['right'].set_linewidth(1.8)

# grid
for v in range(-45, 31, 5):
    if v == 0:
        ax.axhline(v, color='#c8c8c8', lw=2.6, zorder=0)
        ax.axhline(v, color='#808080', lw=1.2, zorder=0)
    else:
        ax.axhline(v, color='#c0c0c0', lw=1.8 if v % 10 == 0 else 1.0, zorder=0)
for h in DATE_HOURS:
    ax.axvline(h, color='#c0c0c0', lw=1.0, zorder=0)

# axis labels (left degC, right mm)
ytrans = blended_transform_factory(fig.transFigure, ax.transData)
for v in range(-45, 31, 5):
    ax.text(20 / W, v, str(v), transform=ytrans, ha='left', va='center', fontsize=7)
    ax.text(710 / W, v, str(v + 45), transform=ytrans, ha='left', va='center', fontsize=7)

xtrans = blended_transform_factory(ax.transData, fig.transFigure)
for h, lab in zip(DATE_HOURS, DATE_LABELS):
    ax.text(h + 1.2, 1 - 603 / H, lab, transform=xtrans, rotation=90,
            ha='left', va='top', fontsize=7)

# ensemble members
for i, col in enumerate(PERT_COLORS):
    kw = dict(color=col, lw=0.75, marker='o', ms=1.6, zorder=2)
    r850 = PERTS_850[i]
    ax.plot(PERT_HOURS[:len(r850)], r850, **kw)
    r500 = PERTS_500[i]
    ax.plot(PERT_HOURS[:len(r500)], r500, **kw)
    rp = PERTS_PRECIP[i]
    ax.plot(PRECIP_PERT_HOURS[:len(rp)], np.array(rp) + PRECIP_BASE, **kw)

# GFS, control, mean
ax.plot(HOURS, GFS_850, color='black', lw=2.2, zorder=3)
ax.plot(HOURS, GFS_500, color='black', lw=2.2, zorder=3)
ax.plot(HOURS, np.array(GFS_PRECIP) + PRECIP_BASE, color='black', lw=1.2, zorder=3)
ax.plot(HOURS, CTRL_850, color='#0000ff', lw=2.5, zorder=4)
ax.plot(HOURS, CTRL_500, color='#0000ff', lw=2.5, zorder=4)
ax.plot(HOURS, np.array(CTRL_PRECIP) + PRECIP_BASE, color='#0000ff', lw=1.5, zorder=4)
ax.plot(HOURS, MEAN_850, color='#ff0000', lw=3.3, zorder=5)
ax.plot(HOURS, MEAN_500, color='#ff0000', lw=3.3, zorder=5)
ax.plot(HOURS, np.array(MEAN_PRECIP) + PRECIP_BASE, color='#ff0000', lw=3.0, zorder=5)

# section labels
for y, s in [(-5.9, 'Temp. 850hPa'), (-24.2, 'Temp. 500hPa'), (-41.4, 'Précipitations')]:
    ax.text(5.4, y, s, fontsize=7.2, ha='left', va='center', zorder=6)

# snow risk
for h, p in zip(SNOW_HOURS, SNOW_PCT):
    top = -49.9 + p * 0.0333
    ax.add_patch(Rectangle((h - 3, -51.6), 6, top + 51.6, facecolor='#ccffff',
                           edgecolor='none', zorder=1))
    ax.text(h, -49.85, f'{p}%', rotation=90, ha='center', va='bottom', color='#0000ff',
            fontsize=5.2, fontweight='bold', zorder=6)
ax.scatter(SNOW_HOURS, [-50.85] * len(SNOW_HOURS), s=38, color='#86c6ee',
           edgecolors='#b8e2f8', linewidths=0.6, zorder=6)
ax.scatter(SNOW_HOURS, [-50.85] * len(SNOW_HOURS), s=16, marker=(6, 2, 0),
           color='white', linewidths=0.7, zorder=7)

# bottom legend
fig.text(*fpos(20, 607), '(°C)', ha='left', va='center', fontsize=7)
fig.text(*fpos(10, 623), 'Alt. 54m', ha='left', va='center', fontsize=7)
fig.text(*fpos(710, 607), '(mm)', ha='left', va='center', fontsize=7)

for (x0, x1, y), col, lab in [((35, 65, 637), '#ff0000', 'Moyenne des scénarios'),
                              ((225, 255, 637), '#0000ff', 'Run de contrôle'),
                              ((225, 255, 647), 'black', 'Run GFS')]:
    (fx0, fy), (fx1, _) = fpos(x0, y), fpos(x1, y)
    fig.add_artist(Line2D([fx0, fx1], [fy, fy], color=col, lw=3.6, transform=fig.transFigure))
    fig.text(*fpos(x1 + 10, y - 0.5), lab, ha='left', va='center', fontsize=7.2)

fig.text(*fpos(340, 652), '30 Perts.', ha='left', va='center', fontsize=7.2)
for i, col in enumerate(PERT_COLORS):
    x = 400 + i * 10.95
    fig.add_artist(Rectangle(fpos(x, 656), 10 / W, 6 / H, facecolor=col, edgecolor='none',
                             transform=fig.transFigure))
    fig.text(*fpos(x + 5, 642), f'{i + 1:02d}', ha='center', va='center', fontsize=5.2,
             fontweight='bold')

fig.add_artist(Line2D([fpos(60, 0)[0]], [fpos(0, 658)[1]], marker='o', ms=7.5, color='#86c6ee',
                      mec='#b8e2f8', transform=fig.transFigure))
fig.add_artist(Line2D([fpos(60, 0)[0]], [fpos(0, 658)[1]], marker=(6, 2, 0), ms=5, color='white',
                      mew=0.7, transform=fig.transFigure))
fig.text(*fpos(75, 659), 'Risque neige', ha='left', va='center', fontsize=7.2)

fig.add_artist(Rectangle(fpos(20, 699), 420 / W, 32 / H, facecolor='none', edgecolor='black',
                         lw=1.2, transform=fig.transFigure))
fig.text(*fpos(30, 677), 'Diagramme des ensembles GEFS sur 384h pour Istanbul',
         ha='left', va='center', fontsize=8.3, fontweight='bold')
fig.text(*fpos(30, 692), 'Températures 850hPa et 500hPa (°C) , précipitations (mm)',
         ha='left', va='center', fontsize=7.1)
fig.text(*fpos(450, 675), 'Ensemble GEFS du 21/12/2021 - 06Z', ha='left', va='center', fontsize=7.1)
fig.text(*fpos(450, 692), 'Copyright 2021 Meteociel.fr', ha='left', va='center', fontsize=8.3,
         fontweight='bold')

fig.savefig('out.png', dpi=100)
